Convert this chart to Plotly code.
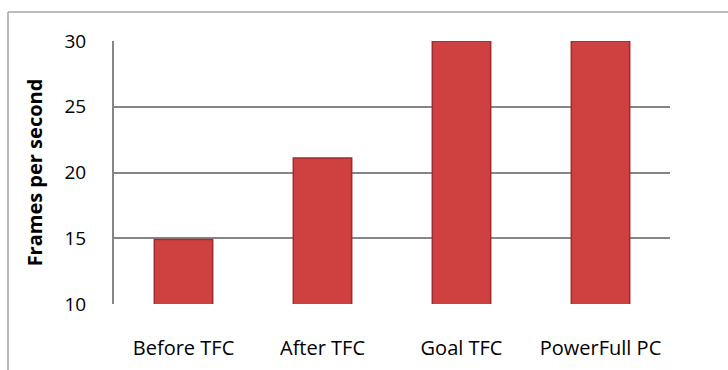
import plotly.graph_objects as go

categories = ["Before TFC", "After TFC", "Goal TFC", "PowerFull PC"]
fps_values = [14.9, 21.1, 30, 30]
y_ticks = [10, 15, 20, 25, 30]

W, H = 728, 370
ml, mr, mt, mb = 114, 58, 41, 66
pw, ph = W - ml - mr, H - mt - mb

def px_x(x):
    return (x - ml) / pw

def px_y(y):
    return 1 - (y - mt) / ph

fig = go.Figure()
fig.add_trace(go.Bar(
    x=categories, y=fps_values, base=0,
    marker=dict(color="#cf4140", line=dict(color="#9e2c2c", width=1.5)),
    width=0.42,
))

font_family = "Open Sans, Lato, sans-serif"
fig.update_layout(
    width=W, height=H,
    margin=dict(l=ml, r=mr, t=mt, b=mb, autoexpand=False),
    paper_bgcolor="white", plot_bgcolor="white",
    showlegend=False,
    font=dict(family=font_family, size=19, color="#000000"),
    xaxis=dict(
        showgrid=False, showline=False, zeroline=False, automargin=False,
        ticks="", ticklabelstandoff=30,
        tickfont=dict(size=20),
    ),
    yaxis=dict(
        range=[10, 30], tickvals=y_ticks, automargin=False,
        showgrid=True, gridcolor="#868686", gridwidth=2,
        showline=True, linecolor="#868686", linewidth=2,
        zeroline=False, ticks="", ticklabelstandoff=22,
        tickfont=dict(size=19),
        title=dict(text="<b>Frames per second</b>", font=dict(size=20), standoff=16),
    ),
    shapes=[
        dict(type="line", xref="paper", yref="paper",
             x0=px_x(8), x1=px_x(8), y0=px_y(12), y1=px_y(370),
             line=dict(color="#a6a6a6", width=1.5)),
        dict(type="line", xref="paper", yref="paper",
             x0=px_x(8), x1=px_x(728), y0=px_y(12), y1=px_y(12),
             line=dict(color="#a6a6a6", width=1.5)),
    ],
)

fig.write_html("out.html")
